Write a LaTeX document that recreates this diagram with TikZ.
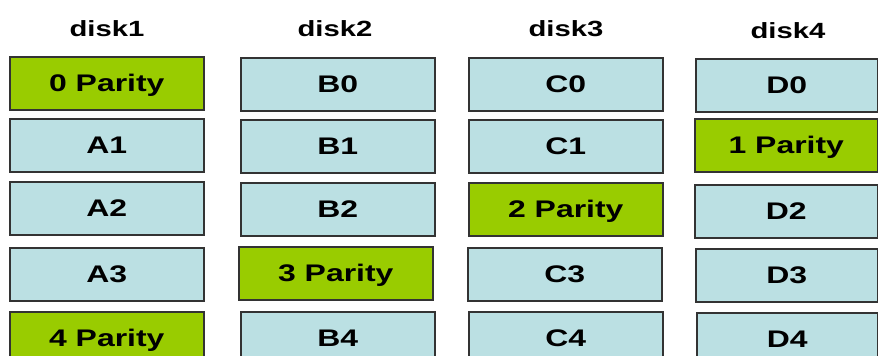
\documentclass[tikz,border=0pt]{standalone}
\usepackage{fontspec}
\setmainfont{Liberation Sans}
\newfontfamily\boxfont[FakeStretch=1.33]{Liberation Sans Bold}
\definecolor{parity}{HTML}{99CC00}
\definecolor{datablk}{HTML}{BBE0E3}
\definecolor{edge}{HTML}{333333}
\begin{document}
\begin{tikzpicture}[x=1pt,y=-1pt,
  blk/.style={draw=edge,line width=1.6pt,fill=datablk,minimum width=194pt,minimum height=53pt,inner sep=0pt,
    font=\boxfont\fontsize{24}{24}\selectfont,text height=17pt,text depth=0pt,anchor=north west},
  par/.style={blk,fill=parity},
  head/.style={font=\boxfont\fontsize{22}{22}\selectfont,anchor=base,inner sep=0pt}]
\useasboundingbox (0,0) rectangle (878,356);
\clip (0,0) rectangle (878,356);
% headings
\node[head] (h1) at (107,36) {disk1};
\node[head] (h2) at (335,36) {disk2};
\node[head] (h3) at (566,36) {disk3};
\node[head] (h4) at (788,38) {disk4};
% disk1
\node[par] (a0) at (9,56) {0 Parity};
\node[blk] (a1) at (9,118) {A1};
\node[blk] (a2) at (9,181) {A2};
\node[blk] (a3) at (9,247) {A3};
\node[par] (a4) at (9,311) {4 Parity};
% disk2
\node[blk] (b0) at (240,57) {B0};
\node[blk] (b1) at (240,119) {B1};
\node[blk] (b2) at (240,182) {B2};
\node[par] (b3) at (238,246) {3 Parity};
\node[blk] (b4) at (240,311) {B4};
% disk3
\node[blk] (c0) at (468,57) {C0};
\node[blk] (c1) at (468,119) {C1};
\node[par] (c2) at (468,182) {2 Parity};
\node[blk] (c3) at (467,247) {C3};
\node[blk] (c4) at (468,311) {C4};
% disk4
\node[blk,minimum width=182pt] (d0) at (695,58) {D0};
\node[par,minimum width=183pt] (d1) at (694,118) {1 Parity};
\node[blk,minimum width=183pt] (d2) at (694,184) {D2};
\node[blk,minimum width=182pt] (d3) at (695,248) {D3};
\node[blk,minimum width=181pt] (d4) at (696,312) {D4};
\end{tikzpicture}
\end{document}
